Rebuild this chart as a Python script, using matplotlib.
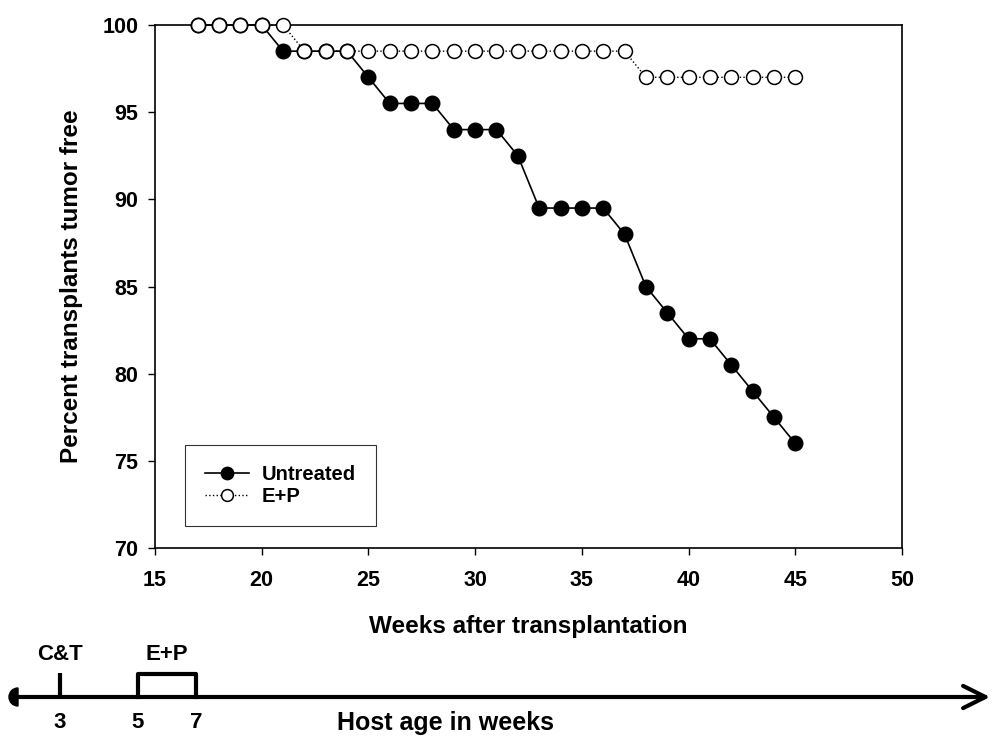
import matplotlib
matplotlib.use("Agg")
import matplotlib.pyplot as plt
from matplotlib.patches import Wedge

plt.rcParams['font.family'] = ['Liberation Sans', 'DejaVu Sans']
plt.rcParams['font.weight'] = 'bold'

weeks = list(range(17, 46))
untreated = [100, 100, 100, 100, 98.5, 98.5, 98.5, 98.5, 97, 95.5, 95.5, 95.5,
             94, 94, 94, 92.5, 89.5, 89.5, 89.5, 89.5, 88, 85, 83.5, 82, 82,
             80.5, 79, 77.5, 76]
ep = [100, 100, 100, 100, 100, 98.5, 98.5, 98.5, 98.5, 98.5, 98.5, 98.5, 98.5,
      98.5, 98.5, 98.5, 98.5, 98.5, 98.5, 98.5, 98.5, 97, 97, 97, 97, 97, 97, 97, 97]
xticks = [15, 20, 25, 30, 35, 40, 45, 50]
yticks = [70, 75, 80, 85, 90, 95, 100]

# timeline
ages = [3, 5, 7]
age_px = [60, 138, 196]   # layout positions on the timeline (pixels)

W, H = 1004, 744
fig = plt.figure(figsize=(W / 100, H / 100), dpi=100)
ax = fig.add_axes([155 / W, 1 - 548 / H, (902 - 155) / W, (548 - 25) / H])

ax.plot(weeks, untreated, '-', color='black', lw=1.2, marker='o', ms=10.5,
        mfc='black', mec='black', mew=1, label='Untreated', zorder=3, clip_on=False)
ax.plot(weeks, ep, ':', color='black', lw=1.0, marker='o', ms=10,
        mfc='white', mec='black', mew=1.1, label='E+P', zorder=4, clip_on=False)

ax.set_xlim(15, 50)
ax.set_ylim(70, 100)
ax.set_xticks(xticks)
ax.set_yticks(yticks)
ax.tick_params(direction='out', length=5, width=1, labelsize=15.5)
for lab in ax.get_xticklabels() + ax.get_yticklabels():
    lab.set_fontweight('bold')
ax.tick_params(axis='x', pad=11)
ax.tick_params(axis='y', pad=7)
for s in ax.spines.values():
    s.set_linewidth(1.2)
ax.set_xlabel('Weeks after transplantation', fontsize=17.5, fontweight='bold', labelpad=17)
ax.set_ylabel('Percent transplants tumor free', fontsize=17.5, fontweight='bold', labelpad=14)

leg = ax.legend(loc='upper left', bbox_to_anchor=((185 - 155) / 747, 1 - (445 - 25) / 523),
                frameon=True, fancybox=False, fontsize=14.5, handlelength=2.2,
                handletextpad=0.6, borderpad=1.0, labelspacing=0.12, borderaxespad=0,
                markerscale=0.85)
leg.get_frame().set_edgecolor('black')
leg.get_frame().set_linewidth(0.8)
for t in leg.get_texts():
    t.set_fontweight('bold')

# timeline overlay
tl = fig.add_axes([0, 0, 1, 1], zorder=-1)
tl.set_xlim(0, W)
tl.set_ylim(H, 0)
tl.axis('off')
y0 = 697
tl.annotate('', xy=(990, y0), xytext=(14, y0),
            arrowprops=dict(arrowstyle='->,head_length=1.6,head_width=0.8', lw=3, color='black',
                            shrinkA=0, shrinkB=0))
tl.add_patch(Wedge((18, y0), 9, 90, 270, color='black'))
tl.plot([age_px[0], age_px[0]], [y0, 673], color='black', lw=3, solid_capstyle='butt')
tl.plot([age_px[1], age_px[1], age_px[2], age_px[2]], [y0, 674, 674, y0], color='black', lw=3)
tl.text(age_px[0], 655, 'C&T', ha='center', va='center', fontsize=16, fontweight='bold')
tl.text((age_px[1] + age_px[2]) / 2, 655, 'E+P', ha='center', va='center', fontsize=16, fontweight='bold')
for a, p in zip(ages, age_px):
    tl.text(p, 723, str(a), ha='center', va='center', fontsize=16, fontweight='bold')
tl.text(446, 723, 'Host age in weeks', ha='center', va='center', fontsize=18, fontweight='bold')

fig.savefig('out.png', dpi=100)
